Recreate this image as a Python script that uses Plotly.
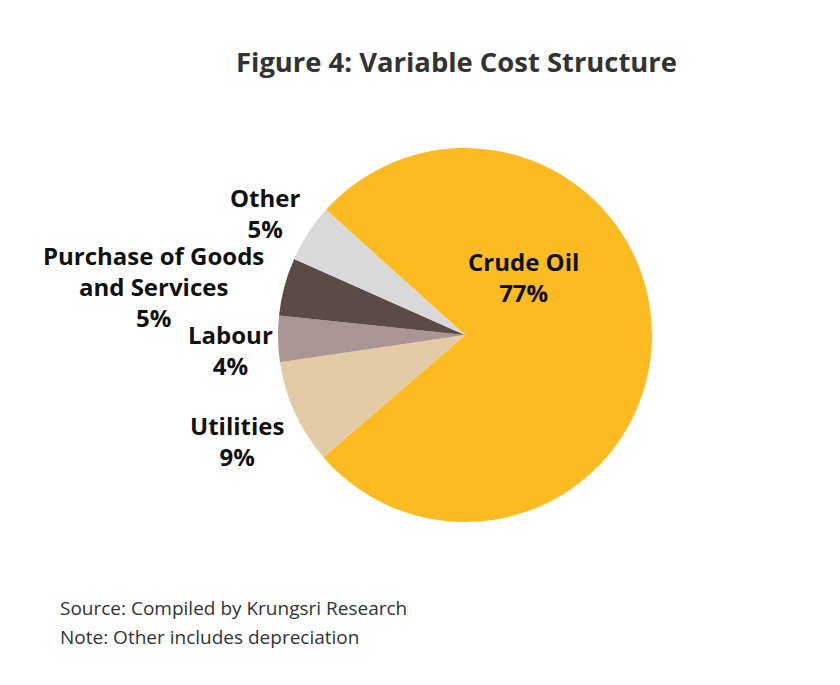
import plotly.graph_objects as go

categories = ["Crude Oil", "Utilities", "Labour", "Purchase of Goods and Services", "Other"]
values = [77, 9, 4, 5, 5]
label_text = ["Crude Oil<br>77%", "Utilities<br>9%", "Labour<br>4%",
              "Purchase of Goods<br>and Services<br>5%", "Other<br>5%"]
colors = ["#FDBB22", "#E3CBA5", "#A99694", "#5B4A46", "#D9D9D9"]

W, H = 840, 685
FONT = "Open Sans"
fig = go.Figure()
fig.add_trace(go.Pie(
    labels=categories, values=values, sort=False, direction="clockwise",
    rotation=-48, marker=dict(colors=colors, line=dict(width=0)),
    textinfo="none", hoverinfo="label+percent", showlegend=False,
    domain=dict(x=[278 / W, 652 / W], y=[1 - 522 / H, 1 - 148 / H]),
))

# label anchor positions (pixels, centre of text block)
label_pos = [(523, 277), (237, 441), (230, 350), (153, 286), (265, 213)]
for txt, (px, py) in zip(label_text, label_pos):
    fig.add_annotation(x=px / W, y=1 - py / H, xref="paper", yref="paper",
                       text="<b>" + txt + "</b>", showarrow=False,
                       xanchor="center", yanchor="middle",
                       font=dict(family=FONT, size=24, color="#111111"),
                       align="center")

fig.add_annotation(x=457 / W, y=1 - 61 / H, xref="paper", yref="paper",
                   text="<b>Figure 4: Variable Cost Structure</b>", showarrow=False,
                   xanchor="center", yanchor="middle",
                   font=dict(family=FONT, size=27.4, color="#333333"))
fig.add_annotation(x=58 / W, y=1 - 608 / H, xref="paper", yref="paper",
                   text="Source: Compiled by Krungsri Research", showarrow=False,
                   xanchor="left", yanchor="middle",
                   font=dict(family=FONT, size=19, color="#333333"))
fig.add_annotation(x=58 / W, y=1 - 637 / H, xref="paper", yref="paper",
                   text="Note: Other includes depreciation", showarrow=False,
                   xanchor="left", yanchor="middle",
                   font=dict(family=FONT, size=19, color="#333333"))

fig.update_layout(width=W, height=H, margin=dict(l=0, r=0, t=0, b=0),
                  paper_bgcolor="white", plot_bgcolor="white")
fig.write_html("out.html")
